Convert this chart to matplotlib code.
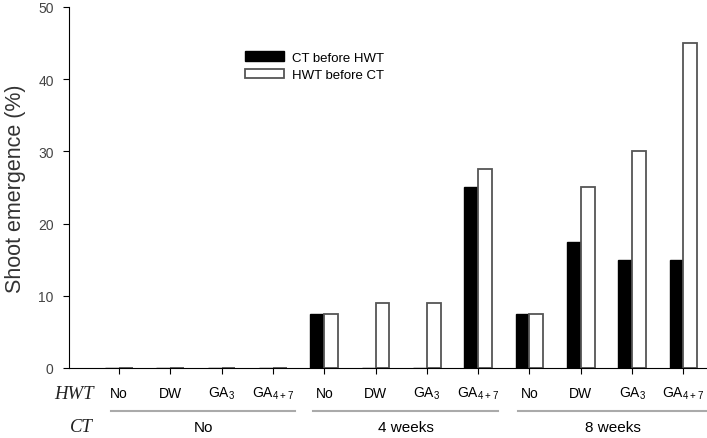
import numpy as np
import matplotlib
matplotlib.use('Agg')
import matplotlib.pyplot as plt
from matplotlib.patches import Patch

plt.rcParams['font.family'] = ['Liberation Sans', 'DejaVu Sans']
plt.rcParams['mathtext.fontset'] = 'custom'
plt.rcParams['mathtext.rm'] = 'Liberation Sans'

# data
hwt_labels = ['No', 'DW', r'GA$_{\mathregular{3}}$', r'GA$_{\mathregular{4+7}}$'] * 3
ct_groups = ['No', '4 weeks', '8 weeks']
ct_before_hwt = [0, 0, 0, 0, 7.5, 0, 0, 25, 7.5, 17.5, 15, 15]
hwt_before_ct = [0, 0, 0, 0, 7.5, 9, 9, 27.5, 7.5, 25, 30, 45]

x = np.arange(len(ct_before_hwt))
w = 0.27

fig = plt.figure(figsize=(7.07, 4.39), dpi=100)
ax = fig.add_axes([0.0976, 0.1595, 0.9024, 0.8223])

ax.bar(x - w / 2, ct_before_hwt, w, color='black', edgecolor='black', linewidth=1.0)
ax.bar(x + w / 2, hwt_before_ct, w, color='white', edgecolor='#555555', linewidth=1.3)

ax.set_xlim(-0.975, 11.46)
ax.set_ylim(0, 50)
ax.set_yticks([0, 10, 20, 30, 40, 50])
ax.tick_params(axis='y', labelsize=10, labelcolor='#444444', length=4, pad=7, direction='out')
ax.set_xticks(x)
ax.set_xticklabels([])
ax.tick_params(axis='x', length=4, direction='out')
ax.spines['top'].set_visible(False)
ax.spines['right'].set_visible(False)
ax.set_ylabel('Shoot emergence (%)', fontsize=15.5, color='#333333', labelpad=9)

# HWT treatment labels under each pair of bars
tr = ax.get_xaxis_transform()
for xi, lab in zip(x, hwt_labels):
    ax.text(xi, -0.069, lab, transform=tr, ha='center', va='center', fontsize=10)

fig.text(0.132, 0.1025, 'HWT', family='Liberation Serif', style='italic', fontsize=13.5,
         ha='right', va='center', color='#222222')
fig.text(0.132, 0.027, 'CT', family='Liberation Serif', style='italic', fontsize=13.5,
         ha='right', va='center', color='#222222')

# CT group lines and labels
spans = [(-0.15, 3.43), (3.78, 7.39), (7.78, 11.46)]
for (a, b), g in zip(spans, ct_groups):
    ax.plot([a, b], [-0.119, -0.119], transform=tr, color='#aaaaaa', lw=1.5, clip_on=False)
    ax.text((a + b) / 2, -0.163, g, transform=tr, ha='center', va='center', fontsize=11)

handles = [Patch(facecolor='black', edgecolor='black'),
           Patch(facecolor='white', edgecolor='#555555', linewidth=1.3)]
ax.legend(handles, ['CT before HWT', 'HWT before CT'], frameon=False, fontsize=9.5,
          loc='upper left', bbox_to_anchor=(0.265, 0.895), handlelength=3.0,
          handleheight=0.7, handletextpad=0.6, labelspacing=0.4, borderpad=0)

fig.savefig('out.png', dpi=100)
